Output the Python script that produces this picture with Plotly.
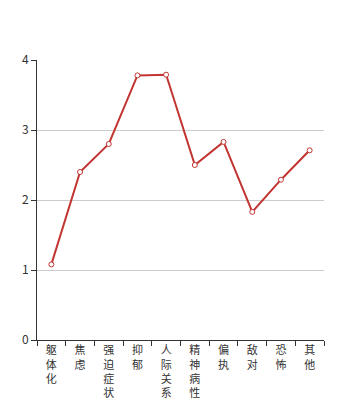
import plotly.graph_objects as go

categories = ["躯体化", "焦虑", "强迫症状", "抑郁", "人际关系敏感", "精神病性", "偏执", "敌对", "恐怖", "其他"]
values = [1.08, 2.40, 2.80, 3.78, 3.79, 2.50, 2.83, 1.83, 2.29, 2.71]
y_ticks = [0, 1, 2, 3, 4]

tick_text = ["<br>".join(list(c)) for c in categories]

fig = go.Figure()
fig.add_trace(go.Scatter(
    x=categories, y=values, mode="lines+markers",
    line=dict(color="#c23531", width=2),
    marker=dict(symbol="circle", size=5, color="white",
                line=dict(color="#c23531", width=1)),
    hoverinfo="skip",
))

font_family = "Noto Sans CJK SC, sans-serif"
fig.update_layout(
    width=360, height=400,
    margin=dict(l=37, r=36, t=60, b=60),
    plot_bgcolor="white", paper_bgcolor="white",
    showlegend=False,
    font=dict(family=font_family, size=12, color="#333"),
    xaxis=dict(
        type="category", tickmode="array", tickvals=categories, ticktext=tick_text,
        tickson="boundaries", ticks="outside", ticklen=5, tickcolor="#333",
        showline=True, linecolor="#333", linewidth=1, showgrid=False,
        tickangle=0, tickfont=dict(size=11, color="#333"),
        range=[-0.5, 9.5], fixedrange=True, automargin=False,
    ),
    yaxis=dict(
        range=[0, 4], tickvals=y_ticks, ticks="outside", ticklen=5, tickcolor="#333",
        showline=True, linecolor="#333", linewidth=1,
        showgrid=True, gridcolor="#ccc", gridwidth=1, zeroline=False,
        tickfont=dict(size=12, color="#333"), fixedrange=True, automargin=False,
    ),
)

fig.write_html("out.html")
